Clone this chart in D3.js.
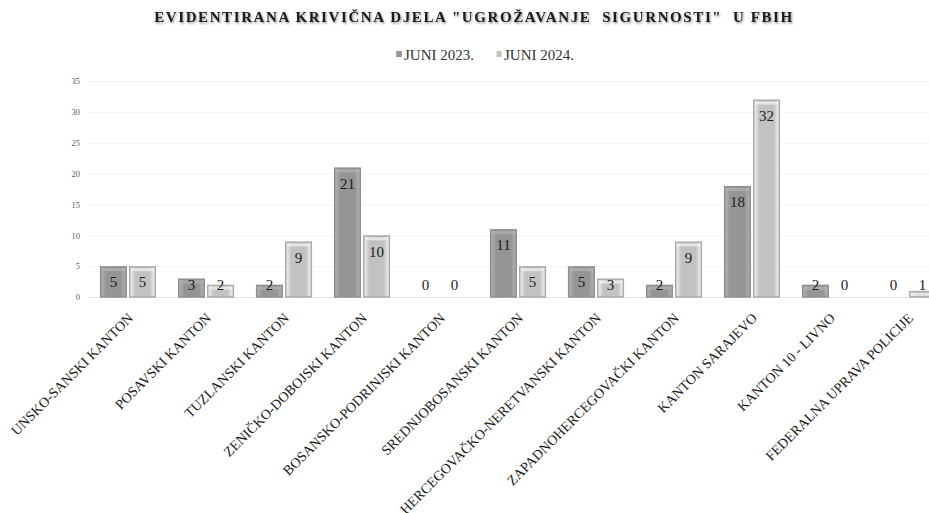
<!DOCTYPE html>
<html>
<head>
<meta charset="utf-8">
<script src="https://cdn.jsdelivr.net/npm/d3@7"></script>
<style>
  body { margin: 0; background: #fff; }
  text { font-family: "Liberation Serif", "DejaVu Serif", serif; }
</style>
</head>
<body>
<div id="chart"></div>
<script>
// chart data
const categories = [
  "UNSKO-SANSKI KANTON",
  "POSAVSKI KANTON",
  "TUZLANSKI KANTON",
  "ZENIČKO-DOBOJSKI KANTON",
  "BOSANSKO-PODRINJSKI KANTON",
  "SREDNJOBOSANSKI KANTON",
  "HERCEGOVAČKO-NERETVANSKI KANTON",
  "ZAPADNOHERCEGOVAČKI KANTON",
  "KANTON SARAJEVO",
  "KANTON 10 - LIVNO",
  "FEDERALNA UPRAVA POLICIJE"
]
const series = ["JUNI 2023.", "JUNI 2024."]
const juni2023 = [5, 3, 2, 21, 0, 11, 5, 2, 18, 2, 0]
const juni2024 = [5, 2, 9, 10, 0, 5, 3, 9, 32, 0, 1]
const yTicks = [0, 5, 10, 15, 20, 25, 30, 35]

const width = 929, height = 513

const svg = d3.select("#chart").append("svg")
    .attr("width", width)
    .attr("height", height)

// gradients to mimic the bevelled bars
const defs = svg.append("defs")
const looks = [
  {id: "g0", edge: "#b4b4b4", mid: "#959595", stroke: "#8f8f8f"},
  {id: "g1", edge: "#f4f4f4", mid: "#c2c2c2", stroke: "#ababab"}
]
looks.forEach(l => {
  const g = defs.append("linearGradient").attr("id", l.id)
      .attr("x1", 0).attr("x2", 1).attr("y1", 0).attr("y2", 0)
  g.append("stop").attr("offset", "0%").attr("stop-color", l.edge)
  g.append("stop").attr("offset", "22%").attr("stop-color", l.mid)
  g.append("stop").attr("offset", "78%").attr("stop-color", l.mid)
  g.append("stop").attr("offset", "100%").attr("stop-color", l.edge)
})
const shadow = defs.append("filter").attr("id", "tshadow")
    .attr("x", "-5%").attr("y", "-50%").attr("width", "110%").attr("height", "200%")
shadow.append("feDropShadow")
    .attr("dx", 1).attr("dy", 1.5).attr("stdDeviation", 1.2)
    .attr("flood-color", "#000").attr("flood-opacity", 0.45)

// scales
const x0 = d3.scaleBand()
    .domain(categories)
    .range([89, 947])
    .paddingInner(0.28)
    .paddingOuter(0.14)

const x1 = d3.scaleBand()
    .domain(series)
    .range([0, x0.bandwidth()])
    .paddingInner(0.07)

const y = d3.scaleLinear()
    .domain([0, 35])
    .range([297, 81])

// gridlines
svg.append("g").attr("class", "grid")
  .selectAll("line")
  .data(yTicks)
  .join("line")
    .attr("x1", 88).attr("x2", width)
    .attr("y1", d => y(d) + 0.5).attr("y2", d => y(d) + 0.5)
    .attr("stroke", d => d === 0 ? "#e4e4e4" : "#f3f3f3")
    .attr("stroke-width", 1)

// y axis labels
const yAxis = d3.axisLeft(y).tickValues(yTicks).tickSize(0).tickPadding(0)
const yGroup = svg.append("g")
    .attr("transform", "translate(80,0)")
    .call(yAxis)
yGroup.select(".domain").remove()
yGroup.selectAll("text")
    .attr("font-family", "Liberation Serif, serif")
    .attr("font-size", 8.5)
    .attr("fill", "#595959")

// bars
const rows = categories.map((c, i) => ({cat: c, vals: [juni2023[i], juni2024[i]]}))

const groups = svg.selectAll(".grp")
  .data(rows)
  .join("g")
    .attr("class", "grp")
    .attr("transform", d => `translate(${x0(d.cat)},0)`)

const bars = groups.selectAll(".bar")
  .data(d => d.vals.map((v, k) => ({s: series[k], k, v})))
  .join("g")
    .attr("class", "bar")

bars.filter(d => d.v > 0).append("rect")
    .attr("x", d => x1(d.s) + 0.75)
    .attr("y", d => y(d.v) + 0.75)
    .attr("width", x1.bandwidth() - 1.5)
    .attr("height", d => y(0) - y(d.v) - 0.75)
    .attr("fill", d => `url(#${looks[d.k].id})`)
    .attr("stroke", d => looks[d.k].stroke)
    .attr("stroke-width", 1.5)

// inner lighter rim near the top
bars.filter(d => d.v > 0).append("rect")
    .attr("x", d => x1(d.s) + 2)
    .attr("y", d => y(d.v) + 2)
    .attr("width", x1.bandwidth() - 4)
    .attr("height", d => Math.min(3, y(0) - y(d.v) - 3))
    .attr("fill", d => looks[d.k].edge)
    .attr("opacity", 0.7)

// value labels
bars.append("text")
    .attr("x", d => x1(d.s) + x1.bandwidth() / 2)
    .attr("y", d => Math.min(y(d.v) + 16, y(0) - 12))
    .attr("dy", "0.35em")
    .attr("text-anchor", "middle")
    .attr("font-size", 15)
    .attr("fill", "#1a1a1a")
    .text(d => d.v)

// x axis labels
const xAxis = d3.axisBottom(x0).tickSize(0).tickPadding(0)
const xGroup = svg.append("g")
    .attr("transform", "translate(-1,312)")
    .call(xAxis)
xGroup.select(".domain").remove()
xGroup.selectAll("text")
    .attr("font-family", "Liberation Serif, serif")
    .attr("font-size", 14)
    .attr("fill", "#1a1a1a")
    .attr("text-anchor", "end")
    .attr("dy", "0.7em")
    .attr("y", 0)
    .attr("transform", "rotate(-45)")

// title
svg.append("text")
    .attr("x", 474)
    .attr("y", 22)
    .attr("text-anchor", "middle")
    .attr("font-size", 15)
    .attr("font-weight", "bold")
    .attr("letter-spacing", 1.6)
    .attr("fill", "#1a1a1a")
    .attr("filter", "url(#tshadow)")
    .style("white-space", "pre")
    .text('EVIDENTIRANA KRIVIČNA DJELA "UGROŽAVANJE  SIGURNOSTI"  U FBIH')

// legend
const legendX = [396, 496]
const legend = svg.selectAll(".legend")
  .data(series)
  .join("g")
    .attr("class", "legend")
    .attr("transform", (d, i) => `translate(${legendX[i]},0)`)
legend.append("rect")
    .attr("x", 0).attr("y", 51)
    .attr("width", 6).attr("height", 6)
    .attr("fill", (d, i) => `url(#${looks[i].id})`)
legend.append("text")
    .attr("x", 8).attr("y", 60)
    .attr("font-size", 15)
    .attr("fill", "#333")
    .text(d => d)
</script>
</body>
</html>
